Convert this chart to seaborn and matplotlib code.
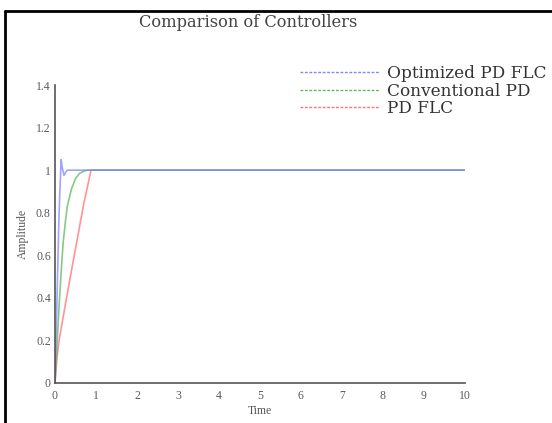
import matplotlib
matplotlib.use("Agg")
import matplotlib.pyplot as plt
import seaborn as sns
import pandas as pd
from matplotlib.lines import Line2D

# ---- data ----
t_opt = [0.0, 0.05, 0.10, 0.15, 0.18, 0.22, 0.26, 0.30, 1.0, 3.0, 10.0]
y_opt = [0.0, 0.40, 0.80, 1.05, 1.01, 0.975, 0.99, 1.0, 1.0, 1.0, 1.0]

t_conv = [0.0, 0.05, 0.10, 0.15, 0.20, 0.25, 0.30, 0.40, 0.50, 0.60, 0.70, 0.80, 1.0, 3.0, 10.0]
y_conv = [0.0, 0.18, 0.36, 0.52, 0.66, 0.75, 0.83, 0.91, 0.96, 0.985, 0.995, 1.0, 1.0, 1.0, 1.0]

t_flc = [0.0, 0.05, 0.10, 0.30, 0.50, 0.70, 0.88, 1.0, 3.0, 10.0]
y_flc = [0.0, 0.12, 0.20, 0.42, 0.63, 0.84, 1.0, 1.0, 1.0, 1.0]

series_names = ["Optimized PD FLC", "Conventional PD", "PD FLC"]
x_ticks = [0, 1, 2, 3, 4, 5, 6, 7, 8, 9, 10]
y_ticks = [0, 0.2, 0.4, 0.6, 0.8, 1.0, 1.2, 1.4]
y_tick_labels = ["0", "0.2", "0.4", "0.6", "0.8", "1", "1.2", "1.4"]

df = pd.concat([
    pd.DataFrame({"Time": t_opt, "Amplitude": y_opt, "Controller": series_names[0]}),
    pd.DataFrame({"Time": t_conv, "Amplitude": y_conv, "Controller": series_names[1]}),
    pd.DataFrame({"Time": t_flc, "Amplitude": y_flc, "Controller": series_names[2]}),
], ignore_index=True)

sns.set_style("white")
plt.rcParams["font.family"] = ["Liberation Serif", "DejaVu Serif"]

colors = {series_names[0]: "#7f86ff", series_names[1]: "#5cb85c", series_names[2]: "#ff7070"}

fig = plt.figure(figsize=(5.52, 4.23), dpi=100)
ax = fig.add_axes([0.0996, 0.0946, 0.7424, 0.7044])

for name in series_names[::-1]:
    sub = df[df["Controller"] == name]
    sns.lineplot(data=sub, x="Time", y="Amplitude", ax=ax, color=colors[name],
                 lw=1.2, alpha=0.75, legend=False, sort=False)

ax.set_xlim(0, 10)
ax.set_ylim(0, 1.4)
ax.set_xticks(x_ticks)
ax.set_yticks(y_ticks)
ax.set_yticklabels(y_tick_labels)
ax.tick_params(direction="in", length=3, width=1, labelsize=8.5, colors="#444444",
               labelcolor="#5a5a5a")
ax.tick_params(axis="x", pad=5)
ax.tick_params(axis="y", pad=3)
for s in ["top", "right"]:
    ax.spines[s].set_visible(False)
for s in ["left", "bottom"]:
    ax.spines[s].set_color("#555555")
    ax.spines[s].set_linewidth(1.2)
ax.set_xlabel("Time", fontsize=8.5, color="#555555", labelpad=2)
ax.set_ylabel("Amplitude", fontsize=8.5, color="#555555", labelpad=5)

fig.text(0.449, 0.946, "Comparison of Controllers", ha="center", va="center",
         fontsize=11.7, color="#444444", family="DejaVu Serif")

handles = [Line2D([0], [0], color=colors[n], lw=1, ls=(0, (2, 1.2))) for n in series_names]
fig.legend(handles, series_names, loc="upper left", bbox_to_anchor=(0.531, 0.862),
           frameon=False, handlelength=4.7, handletextpad=0.47,
           labelspacing=0.03, labelcolor="#333333", borderaxespad=0,
           prop={"family": "DejaVu Serif", "size": 12.2})

# outer frame (top and left border of the picture)
fig.add_artist(Line2D([0.009, 1.0], [0.975, 0.975], transform=fig.transFigure,
                      color="black", lw=2))
fig.add_artist(Line2D([0.009, 0.009], [0.0, 0.975], transform=fig.transFigure,
                      color="black", lw=2))

fig.savefig("out.png", dpi=100)
